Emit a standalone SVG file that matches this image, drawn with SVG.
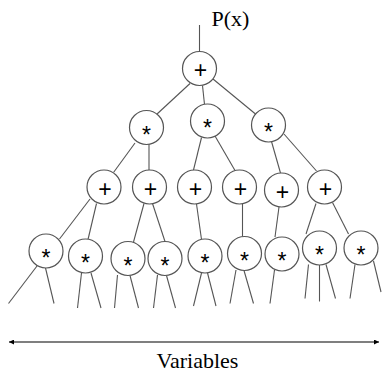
<svg xmlns="http://www.w3.org/2000/svg" width="382" height="374" viewBox="0 0 382 374">
<style>
.e{stroke:#555;stroke-width:1.1;fill:none}
.n circle{fill:#fff;stroke:#555;stroke-width:1.2}
.p{font-family:"Liberation Sans",Arial,sans-serif;font-size:23px;text-anchor:middle;fill:#000}
.s{font-family:"Liberation Sans",Arial,sans-serif;font-size:23px;text-anchor:middle;fill:#000}
.t{font-family:"Liberation Serif","Times New Roman",serif;font-size:22px;fill:#000}
</style>
<defs>
<marker id="ah" viewBox="0 0 10 10" refX="10" refY="5" markerWidth="6" markerHeight="5" orient="auto-start-reverse" markerUnits="userSpaceOnUse">
<path d="M0,0 L10,5 L0,10 z" fill="#000"/>
</marker>
</defs>
<g id="connectors">
<line class="e" x1="199.5" y1="25" x2="199.5" y2="51.5"/>
<line class="e" x1="190" y1="83.5" x2="156.5" y2="114.5"/>
<line class="e" x1="202.5" y1="85.5" x2="204.5" y2="104.5"/>
<line class="e" x1="213" y1="79" x2="255.5" y2="114"/>
<line class="e" x1="135" y1="143" x2="113.5" y2="172.5"/>
<line class="e" x1="149" y1="144" x2="149" y2="170"/>
<line class="e" x1="201.5" y1="137.5" x2="193.5" y2="170"/>
<line class="e" x1="215" y1="136" x2="235" y2="170.5"/>
<line class="e" x1="271.5" y1="141.5" x2="280.5" y2="173"/>
<line class="e" x1="284" y1="134" x2="316.5" y2="171"/>
<line class="e" x1="90" y1="199" x2="59.5" y2="239"/>
<line class="e" x1="96.5" y1="203.5" x2="88" y2="239.5"/>
<line class="e" x1="144" y1="203.5" x2="133.5" y2="242"/>
<line class="e" x1="152.5" y1="203.5" x2="165" y2="241.5"/>
<line class="e" x1="196.5" y1="204" x2="201.5" y2="239.5"/>
<line class="e" x1="242.5" y1="204" x2="242.5" y2="236.5"/>
<line class="e" x1="279" y1="207" x2="275" y2="237"/>
<line class="e" x1="316" y1="203.5" x2="306" y2="234"/>
<line class="e" x1="332.5" y1="202.5" x2="348.5" y2="234"/>
<line class="e" x1="37" y1="266" x2="8.5" y2="303.5"/>
<line class="e" x1="45.5" y1="268" x2="54" y2="303.5"/>
<line class="e" x1="81.5" y1="273" x2="77.5" y2="308"/>
<line class="e" x1="91" y1="273" x2="101" y2="308"/>
<line class="e" x1="117.5" y1="275" x2="114.5" y2="308"/>
<line class="e" x1="130" y1="275.5" x2="138.5" y2="308"/>
<line class="e" x1="157.5" y1="275" x2="153.5" y2="308"/>
<line class="e" x1="166.5" y1="275.5" x2="175.5" y2="308"/>
<line class="e" x1="201.5" y1="273" x2="193.5" y2="306"/>
<line class="e" x1="207.5" y1="273" x2="216" y2="306"/>
<line class="e" x1="236" y1="270" x2="230" y2="303.5"/>
<line class="e" x1="244" y1="270.5" x2="253.5" y2="303.5"/>
<line class="e" x1="274.5" y1="270" x2="270" y2="303.5"/>
<line class="e" x1="308.5" y1="264.5" x2="305" y2="298.5"/>
<line class="e" x1="319.5" y1="265" x2="319.5" y2="301.5"/>
<line class="e" x1="326" y1="264.5" x2="335.5" y2="298.5"/>
<line class="e" x1="355" y1="264.5" x2="350" y2="298.5"/>
<line class="e" x1="373.5" y1="261" x2="381" y2="292"/>
<line stroke="#000" stroke-width="1.2" x1="9" y1="342" x2="379" y2="342" marker-start="url(#ah)" marker-end="url(#ah)"/>
</g>
<text class="t" x="211.5" y="26">P(x)</text>
<text class="t" x="197.5" y="368" text-anchor="middle">Variables</text>
<g id="root" class="n"><circle cx="199.5" cy="68.5" r="17"/><text class="p" x="200.5" y="78">+</text></g>
<g id="m1" class="n"><circle cx="146.5" cy="127.5" r="17"/><text class="s" x="146.5" y="142.5">*</text></g>
<g id="m2" class="n"><circle cx="207.5" cy="121" r="17"/><text class="s" x="207.5" y="136">*</text></g>
<g id="m3" class="n"><circle cx="268.5" cy="125" r="17"/><text class="s" x="268.5" y="140">*</text></g>
<g id="a1" class="n"><circle cx="104" cy="187" r="17"/><text class="p" x="105" y="196.5">+</text></g>
<g id="a2" class="n"><circle cx="149.5" cy="187" r="17"/><text class="p" x="150.5" y="196.5">+</text></g>
<g id="a3" class="n"><circle cx="194.5" cy="187" r="17"/><text class="p" x="195.5" y="196.5">+</text></g>
<g id="a4" class="n"><circle cx="239.5" cy="187" r="17"/><text class="p" x="240.5" y="196.5">+</text></g>
<g id="a5" class="n"><circle cx="281.5" cy="190" r="17"/><text class="p" x="282.5" y="199.5">+</text></g>
<g id="a6" class="n"><circle cx="324.5" cy="187" r="17"/><text class="p" x="325.5" y="196.5">+</text></g>
<g id="b1" class="n"><circle cx="46" cy="251" r="17"/><text class="s" x="46" y="266">*</text></g>
<g id="b2" class="n"><circle cx="85.5" cy="256" r="17"/><text class="s" x="85.5" y="271">*</text></g>
<g id="b3" class="n"><circle cx="128" cy="258.5" r="17"/><text class="s" x="128" y="273.5">*</text></g>
<g id="b4" class="n"><circle cx="165" cy="258.5" r="17"/><text class="s" x="165" y="273.5">*</text></g>
<g id="b5" class="n"><circle cx="205" cy="256" r="17"/><text class="s" x="205" y="271">*</text></g>
<g id="b6" class="n"><circle cx="244.5" cy="253.5" r="17"/><text class="s" x="244.5" y="268.5">*</text></g>
<g id="b7" class="n"><circle cx="282" cy="254" r="17"/><text class="s" x="282" y="269">*</text></g>
<g id="b8" class="n"><circle cx="319.5" cy="248" r="17"/><text class="s" x="319.5" y="263">*</text></g>
<g id="b9" class="n"><circle cx="361" cy="248" r="17"/><text class="s" x="361" y="263">*</text></g>
</svg>
